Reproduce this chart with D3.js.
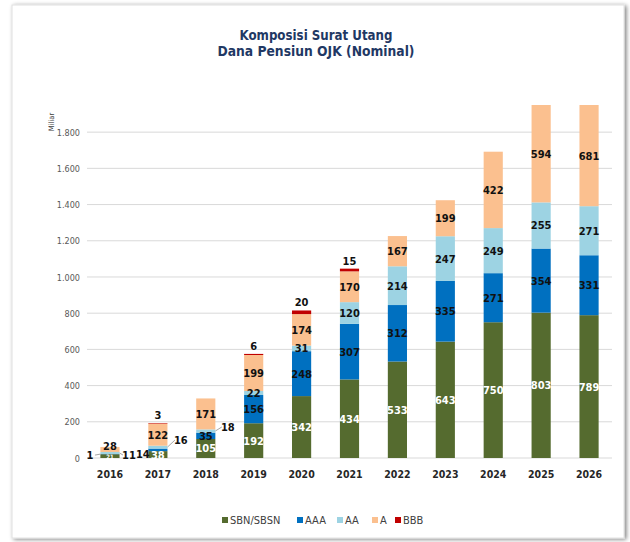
<!DOCTYPE html>
<html><head><meta charset="utf-8">
<script src="https://cdn.jsdelivr.net/npm/d3@7"></script>
<style>
html,body{margin:0;padding:0;background:#fff;}
svg{display:block;}
</style></head>
<body>
<svg id="c" width="630" height="542"></svg>
<script>
const years = ["2016","2017","2018","2019","2020","2021","2022","2023","2024","2025","2026"];
const seriesNames = ["SBN/SBSN","AAA","AA","A","BBB"];
const sbn = [21,38,105,192,342,434,533,643,750,803,789];
const aaa = [1,14,35,156,248,307,312,335,271,354,331];
const aa  = [11,16,18,22,31,120,214,247,249,255,271];
const aRating = [28,122,171,199,174,170,167,199,422,594,681];
const bbb = [0,3,0,6,20,15,0,0,0,0,0];
const yTicks = [0,200,400,600,800,1000,1200,1400,1600,1800];
const yMax = 1950;

const colors = ["#556b2f","#0070c0","#9dd3e3","#fbc08f","#c00000"];
const labelColors = ["#ffffff","#111111","#111111","#111111","#111111"];
const values = [sbn,aaa,aa,aRating,bbb];

// label placement tweaks (layout only)
const leader = {
  "2016|1": {dx:-20, dy:1, side:"left"},
  "2016|2": {dx:19, dy:2, side:"right"},
  "2017|1": {dx:-15, dy:4, side:"left"},
  "2017|2": {dx:23, dy:-7, side:"right"},
  "2018|2": {dx:22, dy:-4, side:"right"}
};
const smallLabel = {"2016|0": 6};
const nudge = {"2016|3": -3, "2016|0": 1};

const svg = d3.select("#c");
const defs = svg.append("defs");
const f = defs.append("filter").attr("id","sh").attr("x","-5%").attr("y","-5%").attr("width","110%").attr("height","110%");
f.append("feGaussianBlur").attr("in","SourceAlpha").attr("stdDeviation",2);
f.append("feOffset").attr("dx",2).attr("dy",1).attr("result","b");
f.append("feComponentTransfer").append("feFuncA").attr("type","linear").attr("slope",0.5);
const fm = f.append("feMerge"); fm.append("feMergeNode"); fm.append("feMergeNode").attr("in","SourceGraphic");

svg.append("rect").attr("x",12).attr("y",5).attr("width",612).attr("height",533)
  .attr("fill","#fff").attr("stroke","#e0e0e0").attr("stroke-width",1).attr("filter","url(#sh)");

const font = "'DejaVu Sans Condensed','DejaVu Sans',sans-serif";

// title
const title = ["Komposisi Surat Utang","Dana Pensiun OJK (Nominal)"];
const tw = [153,197];
title.forEach((t,i)=>{
  svg.append("text").attr("x",316).attr("y",40+i*15.5).attr("text-anchor","middle")
    .attr("font-family",font).attr("font-weight","bold").attr("font-size",14.5)
    .attr("fill","#1f3864").attr("textLength",tw[i]).attr("lengthAdjust","spacingAndGlyphs").text(t);
});

const x = d3.scaleBand().domain(years).range([86,613]).paddingInner(0.6).paddingOuter(0.3);
const y = d3.scaleLinear().domain([0,yMax]).range([458,105]);

// gridlines
svg.append("g").selectAll("line").data(yTicks).join("line")
  .attr("x1",87).attr("x2",612).attr("y1",d=>y(d)).attr("y2",d=>y(d))
  .attr("stroke","#d9d9d9").attr("stroke-width",1);

// y axis labels
const yAxis = d3.axisLeft(y).tickValues(yTicks).tickSize(0).tickPadding(0)
  .tickFormat(d=>d3.format(",")(d).replace(/,/g,"."));
const gy = svg.append("g").attr("transform","translate(80,0)").call(yAxis);
gy.select(".domain").remove();
gy.selectAll("text").attr("font-family",font).attr("font-size",9).attr("fill","#595959").attr("dy","0.35em");

svg.append("text").attr("transform","translate(54,122) rotate(-90)").attr("text-anchor","middle")
  .attr("font-family",font).attr("font-size",7.5).attr("fill","#404040").text("Miliar");

// x axis
const xAxis = d3.axisBottom(x).tickSize(0).tickPadding(0);
const gx = svg.append("g").attr("transform","translate(0,478)").call(xAxis);
gx.select(".domain").remove();
gx.selectAll("text").attr("font-family",font).attr("font-weight","bold").attr("font-size",10.5).attr("fill","#262626").attr("dy",0);

// stacked data
const table = years.map((yr,i)=>{
  const o = {year:yr};
  seriesNames.forEach((s,j)=>o[s]=values[j][i]);
  return o;
});
const stack = d3.stack().keys(seriesNames)(table);

defs.append("clipPath").attr("id","plot").append("rect").attr("x",80).attr("y",y(yMax)).attr("width",540).attr("height",y(0)-y(yMax));

const bars = svg.append("g").attr("clip-path","url(#plot)");
stack.forEach((layer,j)=>{
  bars.append("g").selectAll("rect").data(layer).join("rect")
    .attr("x",d=>x(d.data.year)).attr("width",x.bandwidth())
    .attr("y",d=>y(Math.min(d[1],yMax))).attr("height",d=>Math.max(0,y(Math.min(d[0],yMax))-y(Math.min(d[1],yMax))))
    .attr("fill",colors[j]);
});

// labels
const lab = svg.append("g");
stack.forEach((layer,j)=>{
  layer.forEach((d,i)=>{
    const v = values[j][i];
    if(!v) return;
    const yr = d.data.year;
    const cx = x(yr)+x.bandwidth()/2;
    const top = Math.min(d[1],yMax), bot = Math.min(d[0],yMax);
    let ly = (y(top)+y(bot))/2;
    let lx = cx;
    let col = labelColors[j];
    const key = yr+"|"+j;
    if(j===4){
      ly = y(top)-8;
    } else if(leader[key]){
      const L = leader[key];
      const segY = ly;
      lx = cx+L.dx; ly = segY+L.dy;
      const bx = L.side==="left" ? x(yr) : x(yr)+x.bandwidth();
      const tx = L.side==="left" ? lx+5 : lx-6;
      lab.append("line").attr("x1",bx).attr("y1",segY).attr("x2",tx).attr("y2",ly)
        .attr("stroke","#a6a6a6").attr("stroke-width",1);
      col = "#111111";
    }
    ly += (nudge[key]||0);
    lab.append("text").attr("x",lx).attr("y",ly).attr("dy","0.36em").attr("text-anchor","middle")
      .attr("font-family",font).attr("font-weight","bold").attr("font-size",smallLabel[key]||11)
      .attr("fill",col).text(v);
  });
});

// legend
const legX = [222,297,337,372,395];
const leg = svg.append("g");
seriesNames.forEach((s,j)=>{
  leg.append("rect").attr("x",legX[j]).attr("y",517).attr("width",6).attr("height",6).attr("fill",colors[j]);
  leg.append("text").attr("x",legX[j]+8).attr("y",524).attr("font-family",font).attr("font-size",11)
    .attr("fill","#404040").text(s);
});
</script>
</body></html>
